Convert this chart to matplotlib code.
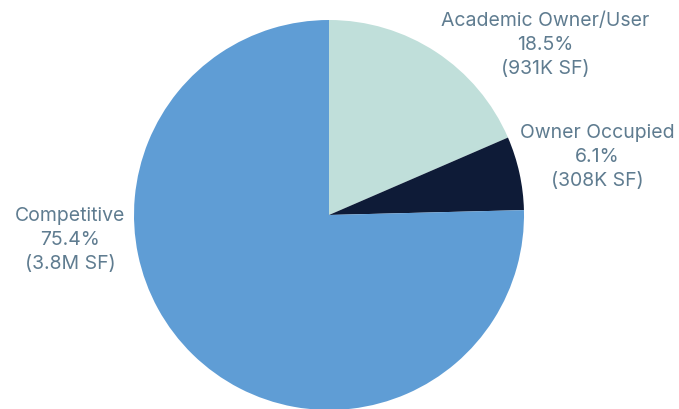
import matplotlib
matplotlib.use("Agg")
import matplotlib.pyplot as plt

labels = ["Academic Owner/User", "Owner Occupied", "Competitive"]
shares = [18.5, 6.1, 75.4]
areas = ["931K SF", "308K SF", "3.8M SF"]
colors = ["#c0dfda", "#0e1b37", "#5f9dd5"]

fig = plt.figure(figsize=(6.79, 4.09), dpi=100)
W, H = 679, 409
cx, cy, r = 329, 215, 195
ax = fig.add_axes([(cx - r) / W, (H - cy - r) / H, 2 * r / W, 2 * r / H])

ax.pie(shares, colors=colors, startangle=90, counterclock=False, radius=1,
       wedgeprops=dict(linewidth=0))
ax.set_xlim(-1, 1)
ax.set_ylim(-1, 1)
ax.set_aspect("auto")
ax.axis("off")

label_pos = [(1.108, 0.872), (1.374, 0.297), (-1.328, -0.128)]
for name, s, a, (x, y) in zip(labels, shares, areas, label_pos):
    ax.text(x, y, f"{name}\n{s}%\n({a})", ha="center", va="center",
            fontsize=14, color="#5f7c90", family="Inter",
            linespacing=1.45, clip_on=False)

fig.savefig("out.png", dpi=100)
